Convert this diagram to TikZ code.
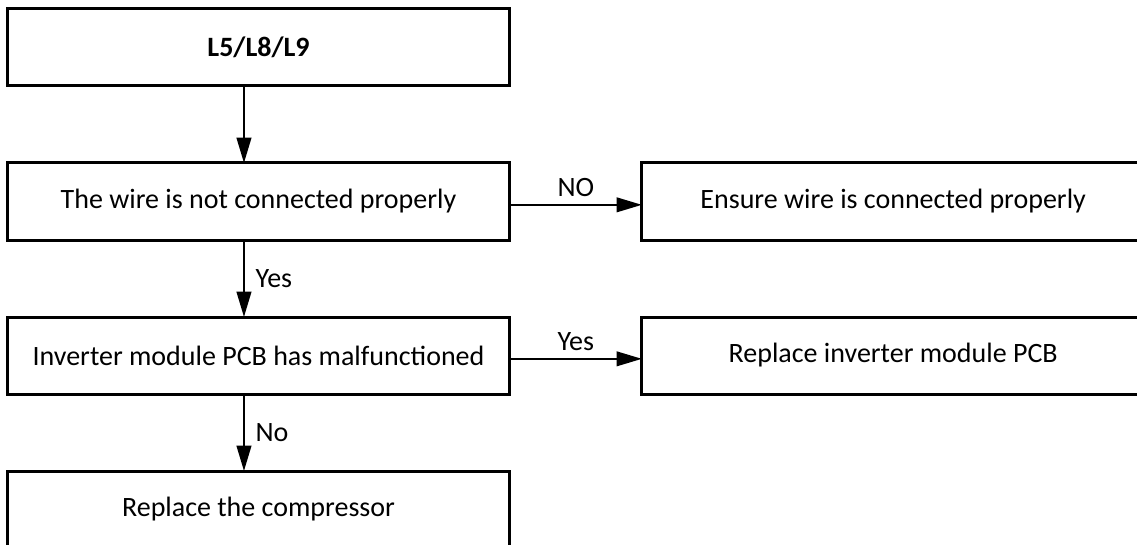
\documentclass[tikz,border=0pt]{standalone}
\usepackage{fontspec}
\setmainfont{Carlito}
\usetikzlibrary{positioning,arrows.meta}

\begin{document}
\begin{tikzpicture}[
  x=0.75pt, y=-0.75pt,
  node distance=57.75pt and 99pt,
  every node/.style={font=\fontsize{21}{25}\selectfont},
  stepbox/.style={rectangle,draw,line width=2.25pt,minimum width=377pt,minimum height=57.75pt,outer sep=0pt,inner sep=0pt},
  flow/.style={-{Triangle[length=19pt,width=11pt]},line width=1.5pt},
  answer/.style={inner sep=2pt}
]
\useasboundingbox (0,0) rectangle (1137,545);
% Main column
\node[stepbox] (code) at (258.5,47.5) {\textbf{L5/L8/L9}};
\node[stepbox, below=of code] (wire) {The wire is not connected properly};
\node[stepbox, below=of wire] (pcb) {Inverter module PCB has malfunctioned};
\node[stepbox, below=of pcb] (comp) {Replace the compressor};

% Actions
\node[stepbox, right=of wire] (ensure) {Ensure wire is connected properly};
\node[stepbox, right=of pcb] (swap) {Replace inverter module PCB};

\draw[flow] ([xshift=-10.9pt]code.south) -- ([xshift=-10.9pt]wire.north);
\draw[flow] ([xshift=-10.9pt]wire.south) -- node[right=6pt,answer]{Yes} ([xshift=-10.9pt]pcb.north);
\draw[flow] ([xshift=-10.9pt]pcb.south) -- node[right=6pt,answer]{No} ([xshift=-10.9pt]comp.north);

\draw[flow] ([yshift=-2.5pt]wire.east) -- node[above=3pt,answer]{NO} ([yshift=-2.5pt]ensure.west);
\draw[flow] ([yshift=-2.5pt]pcb.east) -- node[above=3pt,answer]{Yes} ([yshift=-2.5pt]swap.west);
\end{tikzpicture}
\end{document}
